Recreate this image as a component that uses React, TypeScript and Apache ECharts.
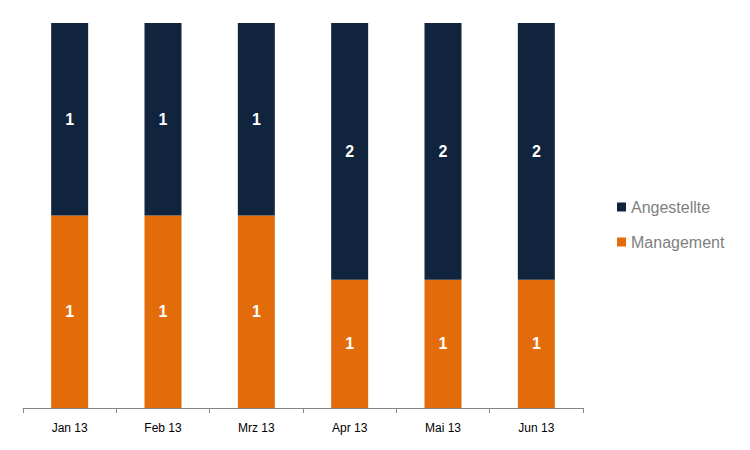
import React, { useEffect, useRef } from "react";
import * as echarts from "echarts";

const categories = ["Jan 13", "Feb 13", "Mrz 13", "Apr 13", "Mai 13", "Jun 13"];
const management = [1, 1, 1, 1, 1, 1];
const angestellte = [1, 1, 1, 2, 2, 2];

export default function App() {
  const ref = useRef<HTMLDivElement>(null);
  useEffect(() => {
    if (!ref.current) return;
    const chart = echarts.init(ref.current, null, { renderer: "svg" });
    const totals = categories.map((_, i) => management[i] + angestellte[i]);
    const toPct = (arr: number[]) =>
      arr.map((v, i) => ({ value: (v / totals[i]) * 100, raw: v }));
    const label = {
      show: true,
      position: "inside",
      color: "#ffffff",
      fontWeight: "bold",
      fontSize: 16,
      fontFamily: "Liberation Sans, Arial, sans-serif",
      formatter: (p: any) => String(p.data.raw),
    };
    chart.setOption({
      animation: false,
      backgroundColor: "#ffffff",
      grid: { left: 23, right: 167, top: 23, bottom: 42, containLabel: false },
      legend: {
        orient: "vertical",
        left: 612,
        top: 192,
        itemWidth: 9,
        itemHeight: 9,
        itemGap: 15,
        icon: "rect",
        data: ["Angestellte", "Management"],
        textStyle: {
          color: "#7f7f7f",
          fontSize: 16,
          lineHeight: 20,
          fontFamily: "Liberation Sans, Arial, sans-serif",
        },
      },
      xAxis: {
        type: "category",
        data: categories,
        axisLine: { lineStyle: { color: "#868686", width: 1 } },
        axisTick: { show: true, length: 5, lineStyle: { color: "#868686" } },
        axisLabel: {
          color: "#000000",
          fontSize: 12,
          margin: 14,
          fontFamily: "Liberation Sans, Arial, sans-serif",
        },
      },
      yAxis: {
        type: "value",
        min: 0,
        max: 100,
        show: false,
        splitLine: { show: false },
      },
      series: [
        {
          name: "Management",
          type: "bar",
          stack: "total",
          barWidth: 37,
          itemStyle: { color: "#e36c0a" },
          label,
          data: toPct(management),
        },
        {
          name: "Angestellte",
          type: "bar",
          stack: "total",
          barWidth: 37,
          itemStyle: { color: "#10243e" },
          label,
          data: toPct(angestellte),
        },
      ],
    });
    return () => chart.dispose();
  }, []);
  return (
    <div
      ref={ref}
      style={{ position: "absolute", left: 0, top: 0, width: 750, height: 450 }}
    />
  );
}
